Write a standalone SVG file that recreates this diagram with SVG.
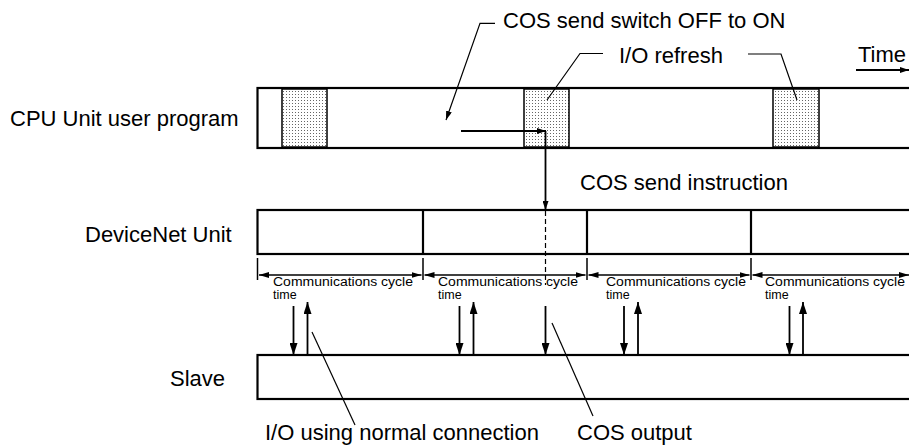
<svg xmlns="http://www.w3.org/2000/svg" width="909" height="446" viewBox="0 0 909 446">
<style>
.lbl{font-family:"Liberation Sans",Arial,sans-serif;font-size:22px;fill:#000}
.sm{font-family:"Liberation Sans",Arial,sans-serif;font-size:12.5px;fill:#000}
.bar{fill:#fff;stroke:#000;stroke-width:2.2}
.blk{fill:url(#dots);stroke:#000;stroke-width:1.5}
.ln{stroke:#000;stroke-width:1.2;fill:none}
.dim{stroke:#000;stroke-width:1.6;fill:none}
.arr{stroke:#000;stroke-width:1.8;fill:none}
</style>
<defs>
<pattern id="dots" width="3" height="3" patternUnits="userSpaceOnUse">
<rect width="3" height="3" fill="#fff"/>
<rect x="1" y="1" width="1" height="1" fill="#666"/>
</pattern>
<marker id="ah" markerWidth="12" markerHeight="8" refX="12" refY="4" orient="auto" markerUnits="userSpaceOnUse"><path d="M0,0 L12,4 L0,8 z" fill="#000"/></marker>
<marker id="ahs" markerWidth="10" markerHeight="6" refX="10" refY="3" orient="auto-start-reverse" markerUnits="userSpaceOnUse"><path d="M0,0 L10,3 L0,6 z" fill="#000"/></marker>
<marker id="ahm" markerWidth="9" markerHeight="6" refX="9" refY="3" orient="auto" markerUnits="userSpaceOnUse"><path d="M0,0 L9,3 L0,6 z" fill="#000"/></marker>
</defs>

<g id="cpu">
<text class="lbl" x="10" y="126">CPU Unit user program</text>
<rect class="bar" x="257.5" y="88" width="700" height="60"/>
<rect class="blk" x="282" y="89" width="45" height="58"/>
<rect class="blk" x="524" y="89" width="45" height="58"/>
<rect class="blk" x="773" y="89" width="46" height="58"/>
</g>

<g id="devicenet">
<text class="lbl" x="85" y="242">DeviceNet Unit</text>
<rect class="bar" x="257.5" y="210" width="700" height="44"/>
<line x1="423" y1="210" x2="423" y2="254" stroke="#000" stroke-width="2.2"/>
<line x1="587" y1="210" x2="587" y2="254" stroke="#000" stroke-width="2.2"/>
<line x1="751" y1="210" x2="751" y2="254" stroke="#000" stroke-width="2.2"/>
</g>

<g id="slave">
<text class="lbl" x="170" y="386">Slave</text>
<rect class="bar" x="257.5" y="355" width="700" height="44"/>
</g>

<g id="labels">
<text class="lbl" x="503" y="28">COS send switch OFF to ON</text>
<text class="lbl" x="619" y="63">I/O refresh</text>
<text class="lbl" x="906" y="62" text-anchor="end">Time</text>
<text class="lbl" x="580" y="190">COS send instruction</text>
<text class="lbl" x="265" y="440">I/O using normal connection</text>
<text class="lbl" x="577" y="440">COS output</text>
<text class="sm" x="273" y="286" textLength="140" lengthAdjust="spacingAndGlyphs">Communications cycle</text>
<text class="sm" x="273" y="299">time</text>
<text class="sm" x="438" y="286" textLength="140" lengthAdjust="spacingAndGlyphs">Communications cycle</text>
<text class="sm" x="438" y="299">time</text>
<text class="sm" x="606" y="286" textLength="140" lengthAdjust="spacingAndGlyphs">Communications cycle</text>
<text class="sm" x="606" y="299">time</text>
<text class="sm" x="765" y="286" textLength="140" lengthAdjust="spacingAndGlyphs">Communications cycle</text>
<text class="sm" x="765" y="299">time</text>
</g>

<g id="connectors">
<polyline class="ln" points="495,23.3 480,23.3 446,120" marker-end="url(#ahm)"/>
<polyline class="ln" points="603,53.5 580,53.5 547,100"/>
<polyline class="ln" points="748,54 781,54 797,100"/>
<line class="arr" x1="856" y1="70" x2="909" y2="70" stroke-width="1.5" marker-end="url(#ahm)"/>
<line class="ln" x1="312" y1="332" x2="355" y2="425"/>
<line class="ln" x1="552" y1="323" x2="593" y2="416"/>
<line class="arr" x1="461" y1="131" x2="546" y2="131" stroke-width="1.8" marker-end="url(#ahm)"/>
<line class="arr" x1="545.5" y1="131" x2="545.5" y2="210" marker-end="url(#ahm)"/>
<line x1="545.5" y1="211" x2="545.5" y2="285" stroke="#000" stroke-width="1.2" stroke-dasharray="5,3"/>
<g stroke="#000" stroke-width="1.5">
<line x1="257.5" y1="258" x2="257.5" y2="280"/>
<line x1="423" y1="258" x2="423" y2="280"/>
<line x1="587" y1="258" x2="587" y2="280"/>
<line x1="751" y1="258" x2="751" y2="280"/>
</g>
<line class="dim" x1="259" y1="275" x2="421.5" y2="275" marker-start="url(#ahs)" marker-end="url(#ahs)"/>
<line class="dim" x1="424.5" y1="275" x2="585.5" y2="275" marker-start="url(#ahs)" marker-end="url(#ahs)"/>
<line class="dim" x1="588.5" y1="275" x2="749.5" y2="275" marker-start="url(#ahs)" marker-end="url(#ahs)"/>
<line class="dim" x1="752.5" y1="275" x2="909" y2="275" marker-start="url(#ahs)" marker-end="url(#ahs)"/>
<line class="arr" x1="293.5" y1="306" x2="293.5" y2="355" marker-end="url(#ah)"/>
<line class="arr" x1="307.5" y1="355" x2="307.5" y2="302" marker-end="url(#ah)"/>
<line class="arr" x1="459.5" y1="306" x2="459.5" y2="355" marker-end="url(#ah)"/>
<line class="arr" x1="473.5" y1="355" x2="473.5" y2="302" marker-end="url(#ah)"/>
<line class="arr" x1="545.5" y1="306" x2="545.5" y2="355" stroke-width="3" marker-end="url(#ah)"/>
<line class="arr" x1="624" y1="306" x2="624" y2="355" marker-end="url(#ah)"/>
<line class="arr" x1="638" y1="355" x2="638" y2="302" marker-end="url(#ah)"/>
<line class="arr" x1="789.5" y1="306" x2="789.5" y2="355" marker-end="url(#ah)"/>
<line class="arr" x1="803" y1="355" x2="803" y2="302" marker-end="url(#ah)"/>
</g>
</svg>
